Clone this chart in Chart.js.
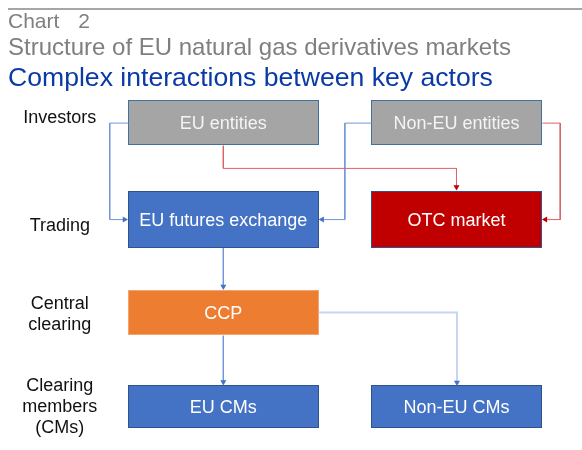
<!DOCTYPE html>
<html>
<head>
<meta charset="utf-8">
<script src="https://cdn.jsdelivr.net/npm/chart.js@4.4.0/dist/chart.umd.min.js"></script>
<style>
  body { margin: 0; background: #fff; font-family: "Liberation Sans", Arial, sans-serif; }
  #wrap { position: relative; width: 582px; height: 450px; }
  #chart { position: absolute; left: 0; top: 0; }
  .rule { position: absolute; left: 8px; right: 0; top: 8px; height: 2px; background: #a6a6a6; }
  .hd { position: absolute; left: 8px; white-space: nowrap; }
</style>
</head>
<body>
<div id="wrap">
  <canvas id="chart" width="582" height="450"></canvas>
  <div class="rule"></div>
  <div class="hd" style="top:10px;font-size:21px;line-height:21px;color:#7f7f7f">Chart<span style="display:inline-block;width:19px"></span>2</div>
  <div class="hd" style="top:35px;font-size:24px;line-height:24px;color:#7f7f7f">Structure of EU natural gas derivatives markets</div>
  <div class="hd" style="top:64px;font-size:26.6px;line-height:26.6px;color:#0a3aa6">Complex interactions between key actors</div>
</div>
<script>
// rows (stages) and the boxes sitting in them
const rowLabels = [['Investors'], ['Trading'], ['Central', 'clearing'], ['Clearing', 'members', '(CMs)']];
const boxLabels = ['EU entities', 'Non-EU entities', 'EU futures exchange', 'OTC market', 'CCP', 'EU CMs', 'Non-EU CMs'];
const boxRow = [0, 0, 1, 1, 2, 3, 3];
const boxCol = [0, 1, 0, 1, 0, 0, 1];

// who connects to whom
const linkFrom = [0, 0, 1, 1, 2, 4, 4];
const linkTo   = [2, 3, 2, 3, 4, 5, 6];

// layout, in scale units (the scales span the whole canvas)
const colX = [[126, 319], [372, 545]];
const rowY = [[98, 144], [190, 248], [291, 337], [388, 431]];
const labelX = 57;
const labelY = [121, 231.5, 310.5, 394];   // baseline of first line
const labelLine = 21;
const linkRoute = ['outL-inL', 'outB-inT', 'outL-inR', 'outR-inR', 'outB-inT', 'outB-inT', 'outR-inT'];
const linkElbow = [19, 0, 27, 18, 0, 0, 0];
const arrowSize = 3.5;

// styles
const boxFill = ['#a5a5a5', '#a5a5a5', '#4472c4', '#c00000', '#ed7d31', '#4472c4', '#4472c4'];
const boxStroke = ['#41719c', '#41719c', '#2f528f', '#2f528f', '#f4a56e', '#2f528f', '#2f528f'];
const boxText = ['#f4f4f4', '#f4f4f4', '#fff', '#fff', '#fff', '#fff', '#fff'];
const linkColor = ['#7396d6', '#dc6464', '#7396d6', '#dc6464', '#7396d6', '#7396d6', '#c8d6ef'];
const linkWidth = [1, 1, 1, 1, 1, 1, 2];
const arrowColor = ['#4472c4', '#c00000', '#4472c4', '#c00000', '#4472c4', '#4472c4', '#4472c4'];
const FONT = '"Liberation Sans", Arial, sans-serif';

function box(i) {
  const [l, r] = colX[boxCol[i]];
  const [t, b] = rowY[boxRow[i]];
  return { l, r, t, b, cx: (l + r) / 2, cy: (t + b) / 2 };
}

// elbow path between two boxes, last point pulled back so the arrow tip touches the edge
function route(k) {
  const a = box(linkFrom[k]), b = box(linkTo[k]), e = linkElbow[k];
  let pts, dir;
  switch (linkRoute[k]) {
    case 'outL-inL':
      pts = [[a.l, a.cy], [a.l - e, a.cy], [a.l - e, b.cy], [b.l, b.cy]]; dir = 'right'; break;
    case 'outL-inR':
      pts = [[a.l, a.cy], [a.l - e, a.cy], [a.l - e, b.cy], [b.r, b.cy]]; dir = 'left'; break;
    case 'outR-inR':
      pts = [[a.r, a.cy], [a.r + e, a.cy], [a.r + e, b.cy], [b.r, b.cy]]; dir = 'left'; break;
    case 'outR-inT':
      pts = [[a.r, a.cy], [b.cx, a.cy], [b.cx, b.t]]; dir = 'down'; break;
    default: {
      const mid = (a.b + b.t) / 2;
      pts = [[a.cx, a.b], [a.cx, mid], [b.cx, mid], [b.cx, b.t]]; dir = 'down';
    }
  }
  const last = pts[pts.length - 1];
  if (dir === 'right') last[0] -= arrowSize;
  if (dir === 'left') last[0] += arrowSize;
  if (dir === 'down') last[1] -= arrowSize;
  const rot = { right: 90, left: 270, down: 180 }[dir];
  return { pts, rot };
}

// keep thin lines on the pixel grid so they stay sharp
const crisp = (v, w) => (w % 2 ? Math.floor(v) + 0.5 : Math.round(v));

const datasets = linkFrom.map((_, k) => {
  const { pts, rot } = route(k);
  const n = pts.length, w = linkWidth[k];
  return {
    data: pts.map(p => ({ x: crisp(p[0], w), y: crisp(p[1], w) })),
    showLine: true,
    fill: false,
    tension: 0,
    borderColor: linkColor[k],
    borderWidth: w,
    pointStyle: 'triangle',
    pointRadius: pts.map((p, i) => (i === n - 1 ? arrowSize : 0)),
    pointHoverRadius: 0,
    pointRotation: pts.map(() => rot),
    pointBackgroundColor: arrowColor[k],
    pointBorderWidth: 0
  };
});

const diagram = {
  id: 'diagram',
  beforeDatasetsDraw(chart) {
    const { ctx, scales: { x, y } } = chart;
    ctx.save();
    boxLabels.forEach((txt, i) => {
      const b = box(i);
      const l = Math.round(x.getPixelForValue(b.l)), r = Math.round(x.getPixelForValue(b.r));
      const t = Math.round(y.getPixelForValue(b.t)), bt = Math.round(y.getPixelForValue(b.b));
      ctx.fillStyle = boxFill[i];
      ctx.fillRect(l, t, r - l, bt - t);
      ctx.strokeStyle = boxStroke[i];
      ctx.lineWidth = 1;
      ctx.strokeRect(l + 0.5, t + 0.5, r - l - 1, bt - t - 1);
      ctx.fillStyle = boxText[i];
      ctx.font = '18px ' + FONT;
      ctx.textAlign = 'center';
      ctx.textBaseline = 'alphabetic';
      ctx.fillText(txt, x.getPixelForValue(b.cx), y.getPixelForValue(b.cy) + 0.36 * 18);
    });
    ctx.fillStyle = '#111';
    ctx.font = '18px ' + FONT;
    ctx.textAlign = 'center';
    rowLabels.forEach((lines, r) => {
      lines.forEach((ln, j) => {
        ctx.fillText(ln, x.getPixelForValue(labelX), y.getPixelForValue(labelY[r] + j * labelLine));
      });
    });
    ctx.restore();
  }
};

new Chart(document.getElementById('chart'), {
  type: 'scatter',
  data: { datasets },
  options: {
    responsive: false,
    animation: false,
    events: [],
    layout: { padding: 0 },
    scales: {
      x: { type: 'linear', min: 0, max: 582, display: false },
      y: { type: 'linear', min: 0, max: 450, reverse: true, display: false }
    },
    plugins: { legend: { display: false }, tooltip: { enabled: false } }
  },
  plugins: [diagram]
});
</script>
</body>
</html>
